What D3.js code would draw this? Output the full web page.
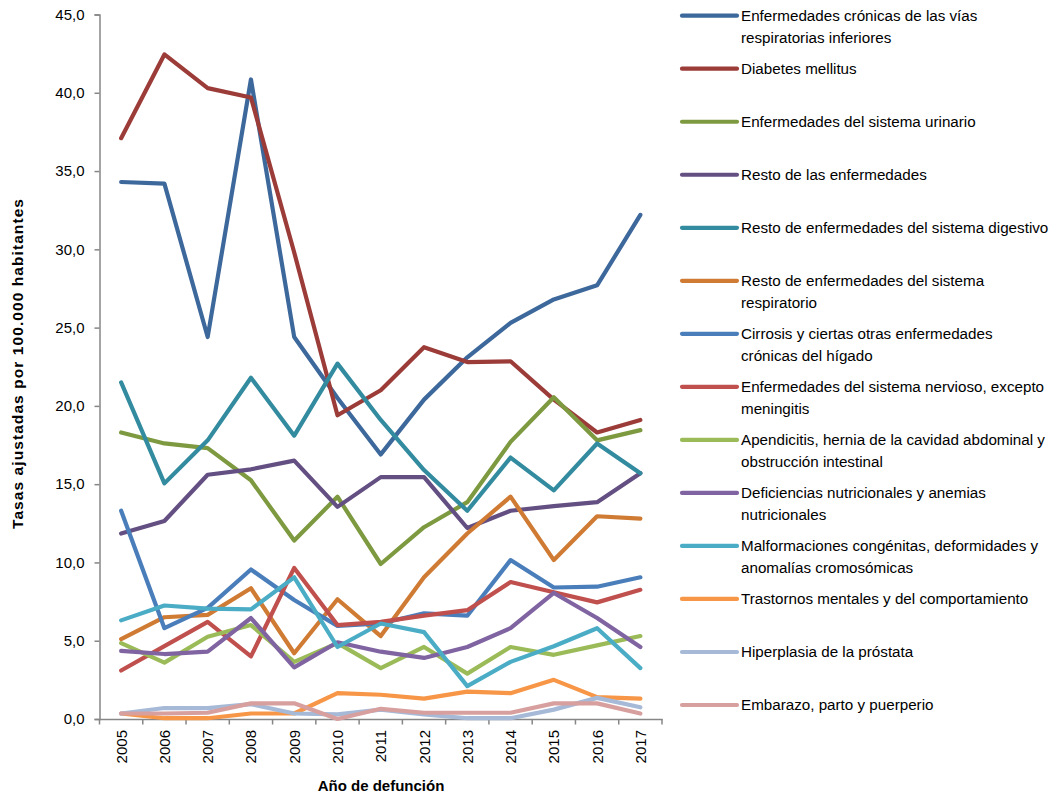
<!DOCTYPE html>
<html><head><meta charset="utf-8">
<script src="https://cdn.jsdelivr.net/npm/d3@7"></script>
<style>
body{margin:0;background:#fff}
text{font-family:"Liberation Sans",Arial,sans-serif;fill:#000}
</style>
</head><body>
<svg id="c" width="1053" height="797"></svg>
<script>
const years = ["2005","2006","2007","2008","2009","2010","2011","2012","2013","2014","2015","2016","2017"];
const yTicks = [0,5,10,15,20,25,30,35,40,45];

const cronicasRespiratorias = [34.3,34.2,24.4,40.85,24.4,20.5,16.9,20.4,23.1,25.3,26.8,27.7,32.2];
const diabetes = [37.1,42.45,40.3,39.7,29.8,19.4,21.0,23.75,22.8,22.85,20.4,18.3,19.1];
const urinario = [18.3,17.6,17.3,15.25,11.4,14.2,9.9,12.25,13.85,17.7,20.55,17.8,18.45];
const restoEnfermedades = [11.85,12.65,15.6,15.95,16.5,13.55,15.45,15.45,12.2,13.3,13.6,13.85,15.7];
const digestivo = [21.5,15.05,17.8,21.8,18.1,22.7,19.1,15.9,13.3,16.7,14.6,17.6,15.7];
const respiratorio = [5.1,6.5,6.65,8.35,4.2,7.65,5.3,9.05,11.85,14.2,10.15,12.95,12.8];
const cirrosis = [13.3,5.8,7.1,9.55,7.6,5.95,6.1,6.75,6.6,10.15,8.4,8.45,9.05];
const nervioso = [3.1,4.65,6.2,4.0,9.65,6.0,6.2,6.6,6.95,8.75,8.1,7.45,8.25];
const apendicitis = [4.85,3.6,5.25,6.0,3.65,4.85,3.25,4.6,2.9,4.6,4.1,4.7,5.3];
const deficiencias = [4.35,4.15,4.3,6.45,3.3,4.9,4.3,3.9,4.6,5.8,8.05,6.45,4.6];
const malformaciones = [6.3,7.25,7.05,7.0,9.05,4.6,6.1,5.55,2.1,3.65,4.65,5.8,3.25];
const mentales = [0.35,0.05,0.05,0.35,0.35,1.65,1.55,1.3,1.75,1.65,2.5,1.4,1.3];
const prostata = [0.35,0.7,0.7,0.95,0.35,0.3,0.6,0.3,0.05,0.05,0.6,1.35,0.75];
const embarazo = [0.35,0.35,0.4,1.0,1.0,0.0,0.65,0.4,0.4,0.4,1.0,1.0,0.35];

const seriesLabels = [
  ["Enfermedades crónicas de las vías","respiratorias inferiores"],
  ["Diabetes mellitus"],
  ["Enfermedades del sistema urinario"],
  ["Resto de las enfermedades"],
  ["Resto de enfermedades del sistema digestivo"],
  ["Resto de enfermedades del sistema","respiratorio"],
  ["Cirrosis y ciertas otras enfermedades","crónicas del hígado"],
  ["Enfermedades del sistema nervioso, excepto","meningitis"],
  ["Apendicitis, hernia de la cavidad abdominal y","obstrucción intestinal"],
  ["Deficiencias nutricionales y anemias","nutricionales"],
  ["Malformaciones congénitas, deformidades y","anomalías cromosómicas"],
  ["Trastornos mentales y del comportamiento"],
  ["Hiperplasia de la próstata"],
  ["Embarazo, parto y puerperio"]
];
const seriesValues = [cronicasRespiratorias, diabetes, urinario, restoEnfermedades, digestivo, respiratorio,
  cirrosis, nervioso, apendicitis, deficiencias, malformaciones, mentales, prostata, embarazo];
const seriesColors = ["#3D689C","#9C3C39","#7E9A40","#634F82","#338B9F","#D07B34",
  "#4A7EBB","#C0504D","#9BBB59","#8064A2","#4BACC6","#F79646","#A6B9D7","#D7A09F"];

const svg = d3.select("#c");
const axisColor = "#868686";

const x = d3.scaleBand().domain(years).range([99.5, 662]).paddingInner(0).paddingOuter(0);
const y = d3.scaleLinear().domain([0,45]).range([719, 14.5]);
const cx = d => x(d) + x.bandwidth()/2;

// Y axis
const yAxis = svg.append("g").attr("transform","translate(99.5,0)")
  .call(d3.axisLeft(y).tickValues(yTicks).tickSize(5).tickPadding(10)
    .tickFormat(d => d3.format(".1f")(d).replace(".", ",")));
yAxis.select(".domain").attr("stroke", axisColor).attr("stroke-width",1.5);
yAxis.selectAll(".tick line").attr("stroke", axisColor).attr("stroke-width",1.5);
yAxis.selectAll(".tick text").attr("font-size","15px").attr("font-family","Liberation Sans, Arial, sans-serif").attr("fill","#000");

// X axis
const xAxis = svg.append("g").attr("transform","translate(0,719)")
  .call(d3.axisBottom(x).tickSize(0).tickPadding(0));
xAxis.select(".domain").attr("stroke", axisColor).attr("stroke-width",1.5);
xAxis.selectAll(".tick text").remove();
const bounds = years.map(d => x(d)).concat([x.range()[1]]);
svg.append("g").selectAll("line").data(bounds).join("line")
  .attr("x1", d=>d).attr("x2", d=>d).attr("y1",719).attr("y2",724.5)
  .attr("stroke", axisColor).attr("stroke-width",1.5);
svg.append("g").selectAll("text").data(years).join("text")
  .attr("transform", d => `translate(${cx(d)+5.5},730) rotate(-90)`)
  .attr("text-anchor","end").attr("font-size","15px").text(d=>d);

// Lines
const line = d3.line().x((d,i)=>cx(years[i])).y(d=>y(d));
svg.append("g").selectAll("path").data(seriesValues).join("path")
  .attr("d", d=>line(d)).attr("fill","none")
  .attr("stroke",(d,i)=>seriesColors[i]).attr("stroke-width",4.2)
  .attr("stroke-linejoin","round").attr("stroke-linecap","round");

// Legend
const ly = d3.scaleLinear().domain([0,13]).range([15.7,705]);
const leg = svg.append("g").selectAll("g").data(seriesLabels).join("g")
  .attr("transform",(d,i)=>`translate(0,${ly(i)})`);
leg.append("line").attr("x1",682).attr("x2",737).attr("y1",0).attr("y2",0)
  .attr("stroke",(d,i)=>seriesColors[i]).attr("stroke-width",4.2).attr("stroke-linecap","round");
leg.each(function(lines){
  const g = d3.select(this);
  lines.forEach((t,k)=>{
    g.append("text").attr("x",741).attr("y",k*22).attr("dy","0.36em")
      .attr("font-size","15.2px").text(t);
  });
});

// Titles
svg.append("text").attr("transform","translate(23,364) rotate(-90)")
  .attr("text-anchor","middle").attr("font-weight","bold").attr("font-size","15.5px")
  .attr("textLength",330).attr("lengthAdjust","spacing")
  .text("Tasas ajustadas por 100.000 habitantes");
svg.append("text").attr("x",381).attr("y",791)
  .attr("text-anchor","middle").attr("font-weight","bold").attr("font-size","15px")
  .text("Año de defunción");
</script>
</body></html>
